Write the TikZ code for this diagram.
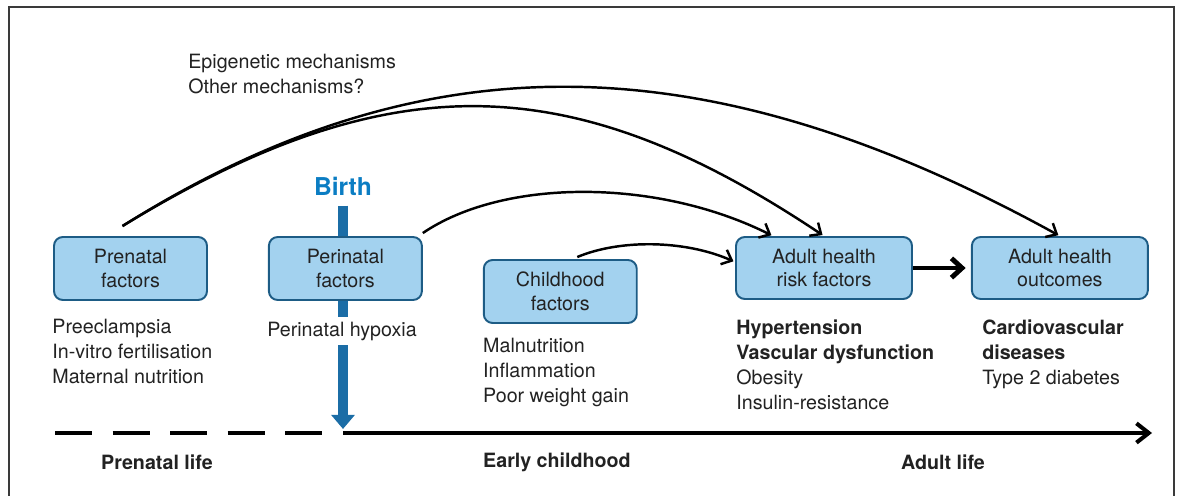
\documentclass[tikz,border=0pt]{standalone}
\usepackage{fontspec}
\setmainfont{TeX Gyre Heros}
\usetikzlibrary{arrows.meta,positioning,calc}
\definecolor{boxfill}{HTML}{A3D2EF}
\definecolor{boxline}{HTML}{1D5C85}
\definecolor{birthblue}{HTML}{0B7DC3}
\definecolor{birtharrow}{HTML}{1B6DA6}
\definecolor{framegray}{HTML}{3A3A3A}
\definecolor{ink}{HTML}{222222}

\begin{document}
\begin{tikzpicture}[x=0.02cm,y=-0.02cm,
  font=\fontsize{11.2}{13.5}\selectfont,text=ink,
  >={Straight Barb[length=5pt,width=9pt]},
  factor/.style={draw=boxline,fill=boxfill,line width=1.1pt,rounded corners=5pt,
     minimum width=3.06cm,minimum height=1.26cm,align=center,inner sep=1pt},
  wide/.style={factor,minimum width=3.52cm,minimum height=1.24cm},
  items/.style={anchor=north west,align=left,inner sep=0pt,
     font=\fontsize{11.2}{14.2}\selectfont},
  period/.style={font=\fontsize{11.2}{13.5}\selectfont\bfseries},
  link/.style={->,line width=1.4pt,shorten >=1pt}]

  \useasboundingbox (0,0) rectangle (1178,496);
  \draw[framegray,line width=0.9pt] (9,510) -- (9,7) -- (1174,7) -- (1174,510);

  % birth marker, behind the boxes
  \node[text=birthblue,font=\fontsize{14}{14}\selectfont\bfseries,inner sep=0pt]
                       (birth) at (343,186) {Birth};
  \coordinate (birthtip) at (343,429);
  \draw[birtharrow,line width=5.5pt,-{Triangle[length=8pt,width=13pt]}]
        ($(birth.south)+(0,10)$) -- (birthtip);

  \node[factor]        (prenatal) at (130.5,268.5) {Prenatal\\factors};
  \node[factor]        (perinatal) [right=1.2cm of prenatal] {Perinatal\\factors};
  \node[factor]        (childhood) [right=1.2cm of perinatal,yshift=-0.46cm] {Childhood\\factors};
  \node[wide]          (risk) at (824,268) {Adult health\\risk factors};
  \node[wide]          (outcome) [right=1.16cm of risk] {Adult health\\outcomes};

  \node[items] (prelist)   at ($(prenatal.south west)+(-1,18)$)
        {Preeclampsia\\In-vitro fertilisation\\Maternal nutrition};
  \node[items,fill=white,inner ysep=2.5pt]
               (perilist)  at ($(perinatal.south west)+(-1,16)$) {Perinatal hypoxia};
  \node[items] (childlist) at ($(childhood.south west)+(0,14)$)
        {Malnutrition\\Inflammation\\Poor weight gain};
  \node[items] (risklist)  at ($(risk.south west)+(1,20)$)
        {\textbf{Hypertension}\\\textbf{Vascular dysfunction}\\Obesity\\Insulin-resistance};
  \node[items] (outlist)   at ($(outcome.south west)+(11,20)$)
        {\textbf{Cardiovascular}\\\textbf{diseases}\\Type 2 diabetes};

  \node[items] (mech) at (188,54) {Epigenetic mechanisms\\Other mechanisms?};

  % links
  \draw[link] ($(prenatal.north)+(-8,-10)$) .. controls +(298,-187) and +(-358,-197) .. (outcome.north);
  \draw[link] ($(prenatal.north)+(-8,-10)$) .. controls +(270,-165) and +(-250,-167) .. (risk.north);
  \draw[link] ($(perinatal.north east)+(0,-3)$) .. controls +(81,-55) and +(-116,-58) .. ($(risk.north)+(-51,0)$);
  \draw[link] ($(childhood.north)+(17,-2)$) .. controls +(43,-18) and +(-50,-22) .. ($(risk.west)+(0,-6)$);
  \draw[->,line width=2.8pt,>={Straight Barb[length=6pt,width=11pt]},shorten >=3pt]
        (risk) -- (outcome);

  % time line
  \coordinate (lifestart) at (343,433);
  \coordinate (lifeend)   at (1152,433);
  \foreach \i in {0,...,4}
    \draw[line width=2.3pt] (55+57.5*\i,433) -- ++(37,0);
  \draw[line width=2.3pt,-{Straight Barb[length=7pt,width=11pt]}] (lifestart) -- (lifeend);

  \node[period] (prelife)   at (157,462) {Prenatal life};
  \node[period] (childlife) at (557,462) {Early childhood};
  \node[period] (adultlife) at (943,462) {Adult life};
\end{tikzpicture}
\end{document}
